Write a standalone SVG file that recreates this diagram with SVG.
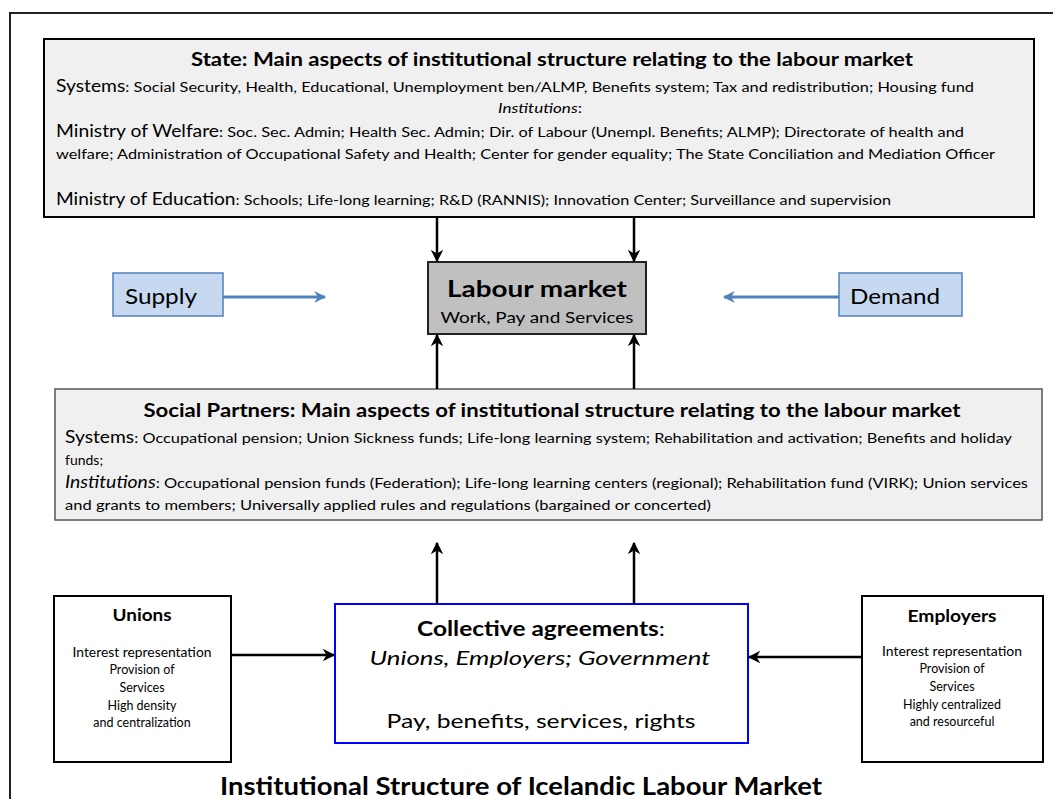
<svg xmlns="http://www.w3.org/2000/svg" width="1053" height="799" viewBox="0 0 1053 799">
<defs>
<style>
text{font-family:Lato,"Open Sans","Liberation Sans",sans-serif;fill:#000}
.b{font-weight:bold}
.i{font-style:italic}
.box{fill:#f0f0f0;stroke:#000;stroke-width:2}
.sp{fill:#f0f0f0;stroke:#555;stroke-width:1.5}
.blue{fill:#c6d9f1;stroke:#4f81bd;stroke-width:1.5}
.wbox{fill:#fff;stroke:#000;stroke-width:2}
.sm{font-size:12.5px}
.conn{stroke:#000;stroke-width:2.5;fill:none;marker-end:url(#ah)}
.bconn{stroke:#4f81bd;stroke-width:3;fill:none;marker-end:url(#bh)}
</style>
<marker id="ah" viewBox="0 0 10 10" refX="9" refY="5" markerWidth="5" markerHeight="5" markerUnits="strokeWidth" orient="auto">
<path d="M0,0 L10,5 L0,10 L3,5 Z" fill="#000"/>
</marker>
<marker id="bh" viewBox="0 0 10 10" refX="9" refY="5" markerWidth="4" markerHeight="4" markerUnits="strokeWidth" orient="auto">
<path d="M0,0 L10,5 L0,10 L3,5 Z" fill="#4f81bd"/>
</marker>
</defs>
<rect x="10" y="13" width="1060" height="800" fill="#fff" stroke="#222" stroke-width="2"/>

<g id="state">
<rect class="box" x="44" y="39" width="990" height="178"/>
<text class="b" x="552" y="66" font-size="19" text-anchor="middle" textLength="722" lengthAdjust="spacingAndGlyphs">State: Main aspects of institutional structure relating to the labour market</text>
<text x="56" y="92" font-size="14" textLength="918" lengthAdjust="spacingAndGlyphs"><tspan font-size="16.5">Systems</tspan>: Social Security, Health, Educational, Unemployment ben/ALMP, Benefits system; Tax and redistribution; Housing fund</text>
<text x="540" y="113" font-size="14" text-anchor="middle" textLength="84" lengthAdjust="spacingAndGlyphs"><tspan class="i">Institutions</tspan>:</text>
<text x="56" y="137" font-size="14" textLength="908" lengthAdjust="spacingAndGlyphs"><tspan font-size="16.5">Ministry of Welfare</tspan>: Soc. Sec. Admin; Health Sec. Admin; Dir. of Labour (Unempl. Benefits; ALMP); Directorate of health and</text>
<text x="56" y="159" font-size="14" textLength="939" lengthAdjust="spacingAndGlyphs">welfare; Administration of Occupational Safety and Health; Center for gender equality; The State Conciliation and Mediation Officer</text>
<text x="56" y="205" font-size="14" textLength="835" lengthAdjust="spacingAndGlyphs"><tspan font-size="16.5">Ministry of Education</tspan>: Schools; Life-long learning; R&amp;D (RANNIS); Innovation Center; Surveillance and supervision</text>
</g>

<g id="supply">
<rect class="blue" x="113" y="273" width="110" height="43"/>
<text x="125" y="304" font-size="21" textLength="72" lengthAdjust="spacingAndGlyphs">Supply</text>
</g>

<g id="demand">
<rect class="blue" x="839" y="273" width="123" height="43"/>
<text x="850" y="304" font-size="21" textLength="90" lengthAdjust="spacingAndGlyphs">Demand</text>
</g>

<g id="labour-market">
<rect x="428" y="262" width="218" height="72" fill="#c0c0c0" stroke="#222" stroke-width="2"/>
<text class="b" x="537" y="297" font-size="22" text-anchor="middle" textLength="180" lengthAdjust="spacingAndGlyphs">Labour market</text>
<text x="537" y="323" font-size="15" text-anchor="middle" textLength="193" lengthAdjust="spacingAndGlyphs">Work, Pay and Services</text>
</g>

<g id="social-partners">
<rect class="sp" x="55" y="389" width="987" height="131"/>
<text class="b" x="552" y="417" font-size="18" text-anchor="middle" textLength="817" lengthAdjust="spacingAndGlyphs">Social Partners: Main aspects of institutional structure relating to the labour market</text>
<text x="65" y="443" font-size="14" textLength="947" lengthAdjust="spacingAndGlyphs"><tspan font-size="16.5">Systems</tspan>: Occupational pension; Union Sickness funds; Life-long learning system; Rehabilitation and activation; Benefits and holiday</text>
<text x="65" y="465" font-size="14">funds;</text>
<text x="65" y="488" font-size="14" textLength="963" lengthAdjust="spacingAndGlyphs"><tspan font-size="16.5" class="i">Institutions</tspan>: Occupational pension funds (Federation); Life-long learning centers (regional); Rehabilitation fund (VIRK); Union services</text>
<text x="65" y="510" font-size="14" textLength="646" lengthAdjust="spacingAndGlyphs">and grants to members; Universally applied rules and regulations (bargained or concerted)</text>
</g>

<g id="unions">
<rect class="wbox" x="54" y="596" width="177" height="166"/>
<text class="b" x="142" y="621" font-size="17" text-anchor="middle" textLength="59" lengthAdjust="spacingAndGlyphs">Unions</text>
<text class="sm" x="142" y="657" text-anchor="middle" textLength="139" lengthAdjust="spacingAndGlyphs">Interest representation</text>
<text class="sm" x="142" y="674" text-anchor="middle">Provision of</text>
<text class="sm" x="142" y="692" text-anchor="middle">Services</text>
<text class="sm" x="142" y="710" text-anchor="middle">High density</text>
<text class="sm" x="142" y="727" text-anchor="middle">and centralization</text>
</g>

<g id="collective-agreements">
<rect x="335" y="604" width="413" height="139" fill="#fff" stroke="#0000ff" stroke-width="2"/>
<text x="541" y="636" font-size="20" text-anchor="middle" textLength="248" lengthAdjust="spacingAndGlyphs"><tspan class="b">Collective agreements</tspan>:</text>
<text class="i" x="540" y="665" font-size="20" text-anchor="middle" textLength="341" lengthAdjust="spacingAndGlyphs">Unions, Employers; Government</text>
<text x="541" y="728" font-size="20" text-anchor="middle" textLength="309" lengthAdjust="spacingAndGlyphs">Pay, benefits, services, rights</text>
</g>

<g id="employers">
<rect class="wbox" x="862" y="596" width="181" height="166"/>
<text class="b" x="952" y="622" font-size="17" text-anchor="middle" textLength="89" lengthAdjust="spacingAndGlyphs">Employers</text>
<text class="sm" x="952" y="656" text-anchor="middle" textLength="140" lengthAdjust="spacingAndGlyphs">Interest representation</text>
<text class="sm" x="952" y="673" text-anchor="middle">Provision of</text>
<text class="sm" x="952" y="691" text-anchor="middle">Services</text>
<text class="sm" x="952" y="709" text-anchor="middle">Highly centralized</text>
<text class="sm" x="952" y="726" text-anchor="middle">and resourceful</text>
</g>

<g id="title">
<text class="b" x="521" y="795" font-size="24" text-anchor="middle" textLength="602" lengthAdjust="spacingAndGlyphs">Institutional Structure of Icelandic Labour Market</text>
</g>

<g id="connectors">
<line class="conn" x1="437" y1="217" x2="437" y2="261"/>
<line class="conn" x1="634" y1="217" x2="634" y2="261"/>
<line class="conn" x1="437" y1="389" x2="437" y2="335"/>
<line class="conn" x1="634" y1="389" x2="634" y2="335"/>
<line class="conn" x1="437" y1="604" x2="437" y2="543"/>
<line class="conn" x1="634" y1="604" x2="634" y2="543"/>
<line class="conn" x1="231" y1="655" x2="334" y2="655"/>
<line class="conn" x1="862" y1="657" x2="749" y2="657"/>
<line class="bconn" x1="223" y1="297" x2="325" y2="297"/>
<line class="bconn" x1="839" y1="297" x2="724" y2="297"/>
</g>
</svg>
